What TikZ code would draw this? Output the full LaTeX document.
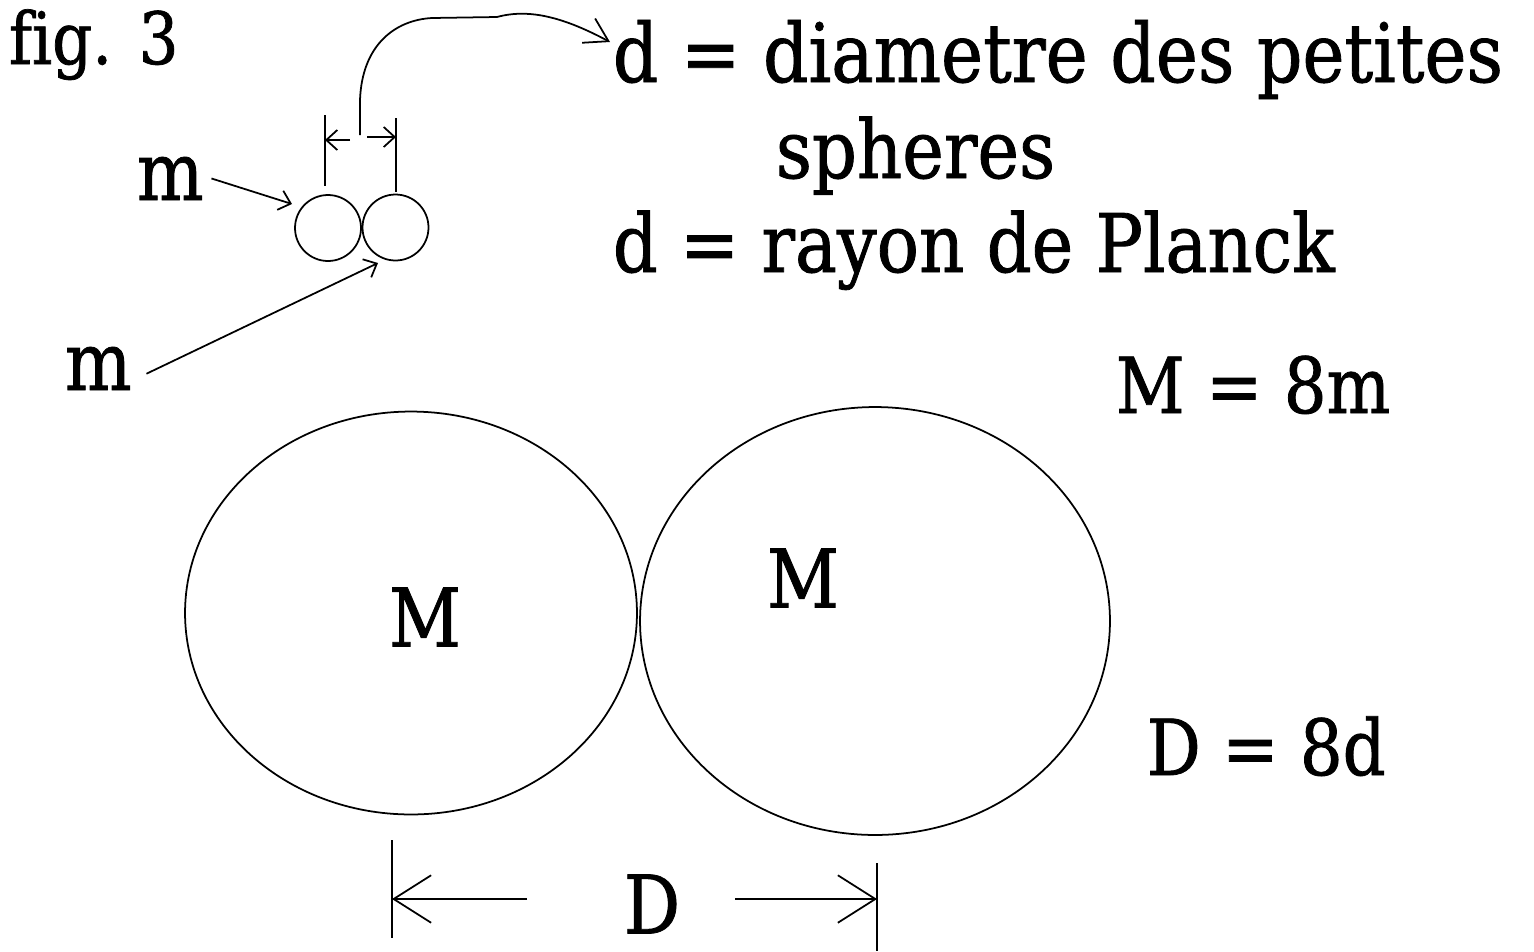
\documentclass[tikz,border=0pt]{standalone}
\usepackage{fontspec}
\setmainfont[FakeStretch=0.87,FakeBold=1,Ligatures=NoCommon]{DejaVu Serif}
\usetikzlibrary{arrows.meta,shapes.geometric}
\begin{document}
\begin{tikzpicture}[x=0.02cm,y=-0.02cm,line width=1pt,
  txt/.style={inner sep=0pt,anchor=base west,font=\fontsize{46}{50}\selectfont},
  bigM/.style={inner sep=0pt,font=\fontsize{46}{50}\selectfont},
  small/.style={circle,draw,minimum size=1.32cm,inner sep=0pt},
  big/.style={ellipse,draw,inner sep=0pt},
  barbS/.style={-{Straight Barb[length=0.22cm,width=0.4cm]}},
  barbM/.style={-{Straight Barb[length=0.45cm,width=0.55cm]}},
  barbL/.style={-{Straight Barb[length=0.75cm,width=0.95cm]}}]
\useasboundingbox (0,0) rectangle (1534,951);
\fill[white] (0,0) rectangle (1534,951);

% texts
\node[txt,font=\fontsize{41}{44}\selectfont] (fig) at (8,64) {fig. 3};
\node[txt,font=\fontsize{46.5}{50}\selectfont] (d1) at (612,82) {d = diametre des petites};
\node[txt] (d2) at (775,178) {spheres};
\node[txt] (d3) at (612,272) {d = rayon de Planck};
\node[txt,font=\fontsize{44}{48}\selectfont] (meq) at (1115,413) {M = 8m};
\node[txt,font=\fontsize{44}{48}\selectfont] (deq) at (1146,775) {D = 8d};
\node[txt] (m1) at (136,200) {m};
\node[txt] (m2) at (64,390) {m};

% small spheres
\node[small] (s1) at (328,228) {};
\node[small] (s2) at (395.5,227.5) {};

% big spheres
\node[big,minimum width=9.04cm,minimum height=8.06cm] (L) at (411,613) {};
\node[big,minimum width=9.4cm,minimum height=8.56cm] (R) at (875,621) {};
\node[bigM] (ML) at (425,617) {M};
\node[bigM] (MR) at (803,578) {M};
\node[bigM] (Dlab) at (652,904) {D};

% d dimension
\coordinate (dlt) at (325,115); \coordinate (dlb) at (325,186);
\coordinate (drt) at (396,118); \coordinate (drb) at (396,192);
\draw (dlt) -- (dlb);
\draw (drt) -- (drb);
\coordinate (da1) at (350,140); \coordinate (da2) at (325,140);
\coordinate (db1) at (367,137); \coordinate (db2) at (396,137);
\draw[barbS] (da1) -- (da2);
\draw[barbS] (db1) -- (db2);

% curved arrow to the definition of d
\coordinate (cs) at (360,135);
\coordinate (ce) at (610,42);
\draw[barbM] (cs) -- (360,100) .. controls (362,45) and (395,20) .. (432,18)
  -- (497,17) .. controls (530,8) and (565,18) .. (ce);

% m arrows
\coordinate (t1) at (292,204);
\coordinate (t2) at (378,263);
\draw[barbS] ([xshift=4pt]m1.east) -- (t1);
\draw[barbS] ([xshift=8pt,yshift=-3pt]m2.east) -- (t2);

% D dimension
\coordinate (Dlt) at (392,840); \coordinate (Dlb) at (392,938);
\coordinate (Drt) at (877,863); \coordinate (Drb) at (877,951);
\draw (Dlt) -- (Dlb);
\draw (Drt) -- (Drb);
\coordinate (Da1) at (527,899); \coordinate (Da2) at (392,899);
\coordinate (Db1) at (735,899); \coordinate (Db2) at (877,899);
\draw[barbL] (Da1) -- (Da2);
\draw[barbL] (Db1) -- (Db2);
\end{tikzpicture}
\end{document}
